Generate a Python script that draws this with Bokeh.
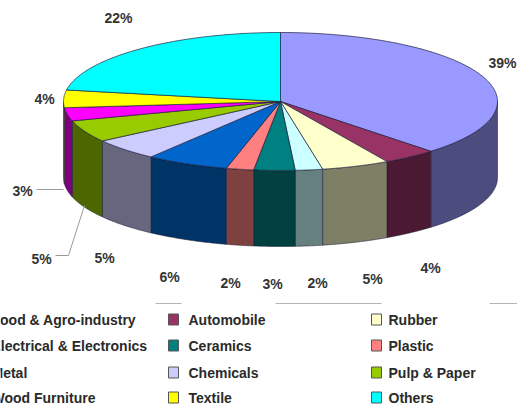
import numpy as np
from bokeh.core.properties import value
from bokeh.embed import file_html
from bokeh.plotting import figure
from bokeh.resources import INLINE

# Clockwise from twelve o'clock
categories = ["Food & Agro-industry", "Automobile", "Rubber", "Wood Furniture", "Ceramics", "Plastic",
              "Electrical & Electronics", "Chemicals", "Pulp & Paper", "Metal", "Textile", "Others"]
shares = [39, 4, 5, 2, 3, 2, 6, 5, 5, 3, 4, 22]
colors = ["#9999FF", "#993366", "#FFFFCC", "#CCFFFF", "#008080", "#FF8080",
          "#0066CC", "#CCCCFF", "#99CC00", "#FF00FF", "#FFFF00", "#00FFFF"]

label_x = [502, 430, 372, 317, 272, 230, 169, 104, 41, 22, 44, 118]
label_y = [62, 267, 278, 282, 283, 282, 276, 257, 258, 190, 98, 17]

legend_rows = [
    ["Food & Agro-industry", "Electrical & Electronics", "Metal", "Wood Furniture"],
    ["Automobile", "Ceramics", "Chemicals", "Textile"],
    ["Rubber", "Plastic", "Pulp & Paper", "Others"],
]
legend_text_x = [-9, 188, 388]
legend_swatch_x = [-22, 173, 376]
legend_y = [319, 345, 372, 397]

CX, CY, RX, RY, DEPTH = 280, 101, 217, 69, 76
INK = "#1c1c3a"


def darker(hex_color):
    r, g, b = (int(hex_color[i:i + 2], 16) for i in (1, 3, 5))
    return f"#{r // 2:02x}{g // 2:02x}{b // 2:02x}"


def projected(deg):
    # The tilted view pulls the front edges slightly towards the right
    t = np.radians(deg)
    return deg - 5.5 * np.sin(t / 2) * np.cos(t / 4)


def rim(deg, drop=0.0):
    t = np.radians(deg)
    return CX + RX * np.sin(t), CY - RY * np.cos(t) + drop


edges = np.concatenate([[0], np.cumsum(shares)]) * 3.6

p = figure(width=517, height=407, x_range=(0, 517), y_range=(407, 0), output_backend="svg",
           toolbar_location=None, min_border=0, outline_line_color=None, background_fill_color="white")
p.axis.visible = False
p.grid.visible = False

# Outer wall: only the part of each slice facing the viewer
for i, color in enumerate(colors):
    lo, hi = max(projected(edges[i]), 90), min(projected(edges[i + 1]), 270)
    if lo >= hi:
        continue
    arc = np.linspace(lo, hi, 60)
    xt, yt = rim(arc)
    xb, yb = rim(arc, DEPTH)
    p.patch(np.r_[xt, xb[::-1]], np.r_[yt, yb[::-1]], fill_color=darker(color),
            line_color=INK, line_width=0.7, line_alpha=0.8)

# Top face
for i, color in enumerate(colors):
    arc = np.linspace(projected(edges[i]), projected(edges[i + 1]), 80)
    xt, yt = rim(arc)
    p.patch(np.r_[CX, xt], np.r_[CY, yt], fill_color=color, line_color=INK, line_width=0.8, line_alpha=0.85)

# Leader lines for the two displaced labels
p.line([36, 63], [189, 189], line_color="#9a9a9a", line_width=1)
p.line([55, 68, 84], [255, 255, 205], line_color="#9a9a9a", line_width=1)

p.text(label_x, label_y, text=[f"{s}%" for s in shares], text_font=value("Liberation Sans"),
       text_font_style="bold", text_font_size="14px", text_color="#333333",
       text_align="center", text_baseline="middle")

# Legend, three columns by four rows, with broken rules above it
for xs in ([155, 181], [275, 381], [489, 517]):
    p.line(xs, [303, 303], line_color="#b5b5b5", line_width=1)

for col, names in enumerate(legend_rows):
    swatches = [colors[categories.index(n)] for n in names]
    p.rect([legend_swatch_x[col]] * 4, legend_y, width=10, height=11, fill_color=swatches,
           line_color="#555555", line_width=1)
    p.text([legend_text_x[col]] * 4, legend_y, text=names, text_font=value("Liberation Sans"),
           text_font_style="bold", text_font_size="14px", text_color="#2a2a2a",
           text_align="left", text_baseline="middle")

open("out.html", "w").write(file_html(p, INLINE))
